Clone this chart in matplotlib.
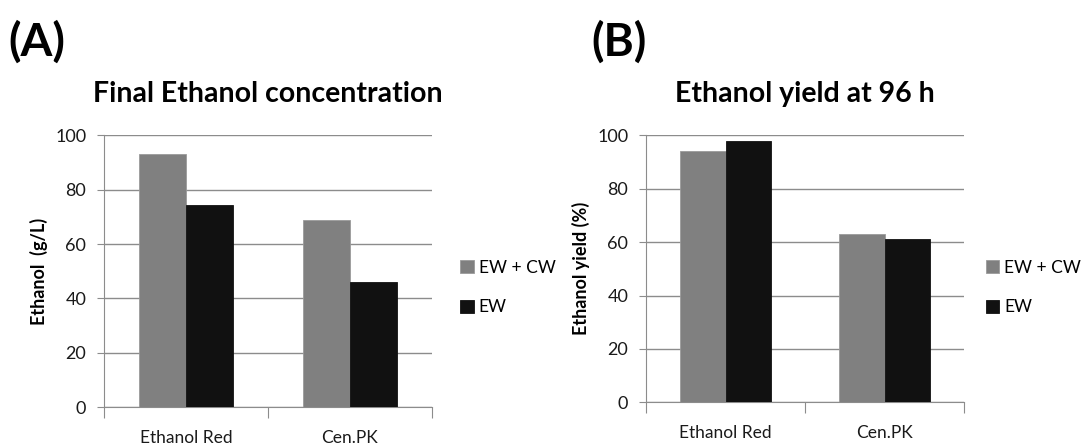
import matplotlib.pyplot as plt
import numpy as np

plt.rcParams['font.family'] = ['Lato', 'DejaVu Sans']

strains = ["Ethanol Red", "Cen.PK"]
series = ["EW + CW", "EW"]
conc_ewcw = [93, 69]
conc_ew = [74.5, 46]
yield_ewcw = [94, 63]
yield_ew = [98, 61]
yticks = [0, 20, 40, 60, 80, 100]

colors = ["#808080", "#111111"]
grid_c = "#8c8c8c"

fig = plt.figure(figsize=(10.84, 4.46), dpi=100)
axA = fig.add_axes([0.0962, 0.0868, 0.3021, 0.6098])
axB = fig.add_axes([0.5962, 0.0980, 0.2931, 0.5986])


def draw(ax, v1, v2, ylabel, title, leg_x, leg_y):
    x = np.arange(len(strains))
    w = 1 / 3.5
    ax.bar(x - w / 2, v1, w, color=colors[0], edgecolor="#9a9a9a", linewidth=0.6,
           label=series[0], zorder=3)
    ax.bar(x + w / 2, v2, w, color=colors[1], edgecolor="#111111", linewidth=0.6,
           label=series[1], zorder=3)
    ax.set_xlim(-0.5, len(strains) - 0.5)
    ax.set_ylim(0, 100)
    ax.set_yticks(yticks)
    ax.yaxis.grid(True, color=grid_c, linewidth=1)
    ax.set_axisbelow(True)
    for s in ["top", "right"]:
        ax.spines[s].set_visible(False)
    for s in ["left", "bottom"]:
        ax.spines[s].set_color(grid_c)
    ax.set_xticks([-0.5, 0.5, 1.5])
    ax.set_xticklabels([])
    ax.set_xticks(x, minor=True)
    ax.set_xticklabels(strains, minor=True, fontsize=12.5, color="#1a1a1a")
    ax.tick_params(axis="x", which="major", length=8, color=grid_c, direction="out")
    ax.tick_params(axis="x", which="minor", length=0, pad=16)
    ax.tick_params(axis="y", length=5, color=grid_c, labelsize=13,
                   labelcolor="#1a1a1a", pad=8)
    ax.set_ylabel(ylabel, fontsize=13, fontweight="bold", labelpad=5)
    ax.set_title(title, fontsize=20.5, fontweight="bold", pad=24)
    ax.legend(loc="center left", bbox_to_anchor=(leg_x, leg_y), frameon=False,
              fontsize=12.5, handlelength=0.75, handleheight=0.75,
              handletextpad=0.3, labelspacing=1.35)


draw(axA, conc_ewcw, conc_ew, "Ethanol  (g/L)", "Final Ethanol concentration",
     1.04, 0.44)
draw(axB, yield_ewcw, yield_ew, "Ethanol yield (%)", "Ethanol yield at 96 h",
     1.02, 0.43)

fig.text(0.008, 0.905, "(A)", fontsize=33, fontweight="bold", va="center")
fig.text(0.546, 0.905, "(B)", fontsize=33, fontweight="bold", va="center")

fig.savefig("out.png", dpi=100)
